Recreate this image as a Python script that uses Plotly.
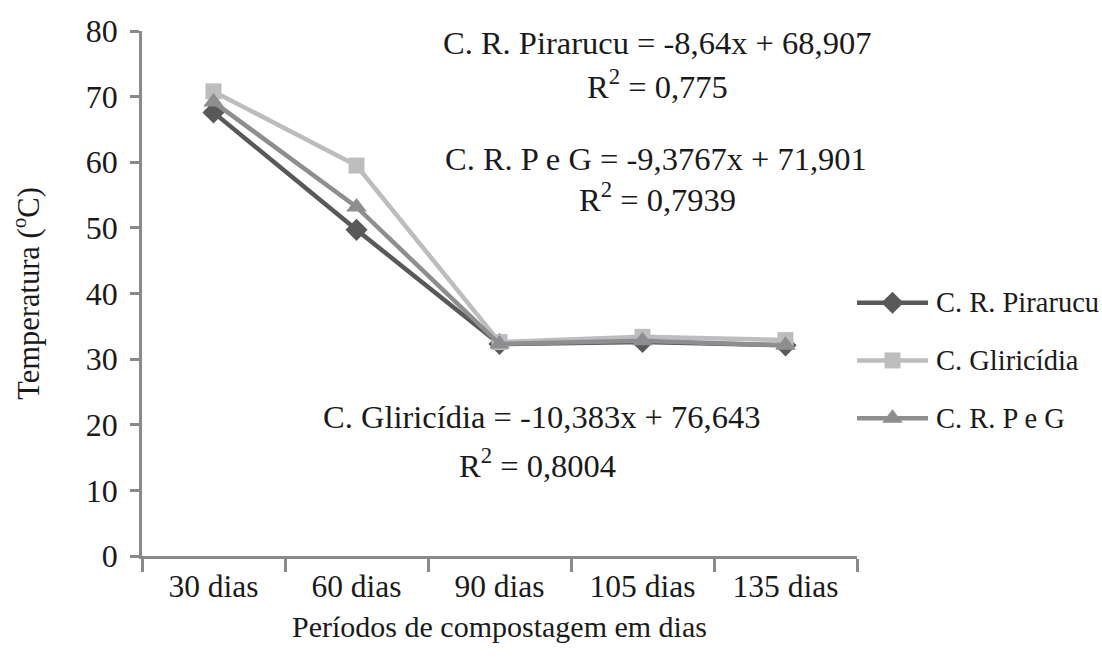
import plotly.graph_objects as go

# Composting temperature by period
periods = ["30 dias", "60 dias", "90 dias", "105 dias", "135 dias"]
pirarucu = [67.6, 49.7, 32.3, 32.6, 32.1]
gliricidia = [70.8, 59.5, 32.6, 33.4, 32.9]
p_e_g = [69.2, 53.2, 32.3, 32.8, 32.1]

series_names = ["C. R. Pirarucu", "C. Gliricídia", "C. R. P e G"]
series_values = [pirarucu, gliricidia, p_e_g]
series_colors = ["#595959", "#BDBDBF", "#8E8E90"]
series_symbols = ["diamond", "square", "triangle-up"]
series_sizes = [17, 16, 18]

# Trendline equations
eq_texts = [
    "C. R. Pirarucu = -8,64x + 68,907",
    "R<sup>2</sup> = 0,775",
    "C. R. P e G = -9,3767x + 71,901",
    "R<sup>2</sup> = 0,7939",
    "C. Gliricídia = -10,383x + 76,643",
    "R<sup>2</sup> = 0,8004",
]
eq_x_px = [657, 657, 656, 657, 541, 537]
eq_y_val = [78.1, 71.9, 60.5, 54.6, 21.2, 14.1]

FONT = "Liberation Serif, Times New Roman, serif"
TXT = "#1a1a1a"
AX = "#8a8a8c"

W, H = 1102, 661
L, R, T, B = 142, 0, 31, 105
PW = W - L - R
PLOT_RIGHT = 857

fig = go.Figure()

for name, vals, col, sym, sz in zip(series_names, series_values, series_colors,
                                    series_symbols, series_sizes):
    fig.add_trace(go.Scatter(
        x=periods, y=vals, name=name, mode="lines+markers",
        line=dict(color=col, width=4.5),
        marker=dict(symbol=sym, size=sz, color=col, line=dict(width=0)),
        showlegend=False, xaxis="x", yaxis="y",
    ))

# Legend glyphs drawn on an auxiliary axis to the right of the plot
leg_y = [38.6, 29.8, 21.0]
for name, col, sym, sz, ly in zip(series_names, series_colors, series_symbols,
                                  series_sizes, leg_y):
    fig.add_trace(go.Scatter(
        x=[0, 0.5, 1], y=[ly, ly, ly], mode="lines",
        line=dict(color=col, width=4.5), showlegend=False,
        xaxis="x2", yaxis="y2", hoverinfo="skip",
    ))
    fig.add_trace(go.Scatter(
        x=[0.5], y=[ly], mode="markers",
        marker=dict(symbol=sym, size=sz, color=col, line=dict(width=0)),
        showlegend=False, xaxis="x2", yaxis="y2", hoverinfo="skip",
    ))
    fig.add_annotation(
        text=name, xref="paper", yref="y2", x=(934 - L) / PW, y=ly,
        xanchor="left", yanchor="middle", showarrow=False,
        font=dict(family=FONT, size=28.5, color=TXT),
    )

for txt, xp, yv in zip(eq_texts, eq_x_px, eq_y_val):
    fig.add_annotation(
        text=txt, xref="paper", yref="y", x=(xp - L) / PW, y=yv,
        xanchor="center", yanchor="middle", showarrow=False,
        font=dict(family=FONT, size=32.5, color=TXT),
    )

plot_frac = (PLOT_RIGHT - L) / PW

fig.update_layout(
    width=W, height=H,
    margin=dict(l=L, r=R, t=T, b=B),
    paper_bgcolor="white", plot_bgcolor="white",
    font=dict(family=FONT, size=30, color=TXT),
    xaxis=dict(
        domain=[0, plot_frac], type="category", range=[-0.5, 4.5],
        showgrid=False, zeroline=False, showline=True, linecolor=AX, linewidth=2.5,
        ticks="outside", ticklen=13, tickwidth=2.5, tickcolor=AX,
        tickson="boundaries",
        tickfont=dict(family=FONT, size=31.5, color=TXT),
        title=dict(text="Períodos de compostagem em dias",
                   font=dict(family=FONT, size=30, color=TXT), standoff=14),
    ),
    yaxis=dict(
        range=[0, 80], dtick=10, showgrid=False, zeroline=False,
        showline=True, linecolor=AX, linewidth=2.5,
        ticks="outside", ticklen=9, tickwidth=2.5, tickcolor=AX,
        ticklabelstandoff=6,
        tickfont=dict(family=FONT, size=32, color=TXT),
        title=dict(text="Temperatura (<sup>o</sup>C)",
                   font=dict(family=FONT, size=30.5, color=TXT), standoff=38),
    ),
    xaxis2=dict(domain=[plot_frac, (928 - L) / PW], range=[0, 1], visible=False,
                anchor="y2"),
    yaxis2=dict(domain=[0, 1], range=[0, 80], visible=False, anchor="x2",
                overlaying="y"),
)

fig.write_html("out.html")
